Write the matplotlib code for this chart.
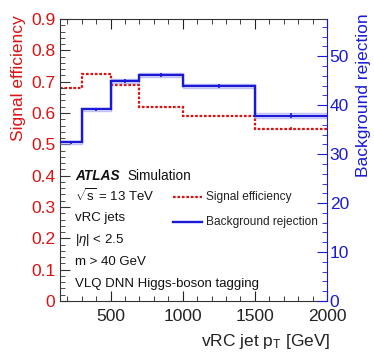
import matplotlib
matplotlib.use("Agg")
import matplotlib.pyplot as plt
from matplotlib.ticker import MultipleLocator
import numpy as np

plt.rcParams['font.family'] = ['Liberation Sans', 'DejaVu Sans']
plt.rcParams['mathtext.fontset'] = 'custom'
plt.rcParams['mathtext.rm'] = 'Liberation Sans'
plt.rcParams['mathtext.it'] = 'Liberation Sans:italic'

bin_edges = [150, 300, 500, 700, 1000, 1500, 2000]
signal_eff = [0.68, 0.723, 0.69, 0.619, 0.589, 0.550]
signal_err = [0.003, 0.003, 0.003, 0.003, 0.003, 0.004]
bkg_rej = [32.4, 39.2, 44.9, 46.2, 43.9, 37.8]
bkg_err = [0.3, 0.3, 0.4, 0.4, 0.4, 0.5]

RED = '#dd1111'
BLUE = '#1a1ad6'

fig = plt.figure(figsize=(3.74, 3.59), dpi=100)
ax = fig.add_axes([60/374, 1 - 301/359, 267/374, 282/359])
ax2 = ax.twinx()

edges = np.array(bin_edges)
centers = 0.5 * (edges[:-1] + edges[1:])
sig = np.array(signal_eff)
bkg = np.array(bkg_rej)

ax.stairs(sig, edges, color=RED, linestyle=(0, (1.2, 0.8)), linewidth=1.6, baseline=None)
ax.errorbar(centers, sig, yerr=signal_err, fmt='none', ecolor=RED, elinewidth=1.2)

ax2.stairs(bkg + np.array(bkg_err), edges, color='#9999ee', linewidth=1.0, baseline=None, alpha=0.6)
ax2.stairs(bkg - np.array(bkg_err), edges, color='#9999ee', linewidth=1.0, baseline=None, alpha=0.6)
ax2.stairs(bkg, edges, color=BLUE, linewidth=1.7, baseline=None)
ax2.errorbar(centers, bkg, yerr=bkg_err, fmt='none', ecolor=BLUE, elinewidth=1.2)

ax.set_xlim(150, 2000)
ax.set_ylim(0, 0.9)
ax2.set_ylim(0, 57.6)

ax.xaxis.set_major_locator(MultipleLocator(500))
ax.xaxis.set_minor_locator(MultipleLocator(100))
ax.yaxis.set_major_locator(MultipleLocator(0.1))
ax.yaxis.set_minor_locator(MultipleLocator(0.02))
ax2.yaxis.set_major_locator(MultipleLocator(10))
ax2.yaxis.set_minor_locator(MultipleLocator(2))

ax.tick_params(axis='x', which='both', direction='in', top=True, labelsize=12.5, colors='#222222', pad=6)
ax.tick_params(axis='x', which='major', length=7)
ax.tick_params(axis='x', which='minor', length=3.5)
ax.tick_params(axis='y', which='both', direction='in', right=False, colors='#333333', labelcolor=RED, labelsize=12.5)
ax.tick_params(axis='y', which='major', length=7)
ax.tick_params(axis='y', which='minor', length=3.5)
ax2.tick_params(axis='y', which='both', direction='in', colors=BLUE, labelcolor=BLUE, labelsize=12.5, pad=2)
ax2.tick_params(axis='y', which='major', length=7)
ax2.tick_params(axis='y', which='minor', length=3.5)

ax.yaxis.set_major_formatter(matplotlib.ticker.FuncFormatter(lambda v, p: '0' if abs(v) < 1e-9 else f'{v:.1f}'))

for s in ['left', 'top', 'bottom']:
    ax.spines[s].set_color('#333333')
ax2.spines['right'].set_color(BLUE)
ax.spines['right'].set_visible(False)
for s in ['left', 'top', 'bottom']:
    ax2.spines[s].set_visible(False)

ax.set_ylabel('Signal efficiency', color=RED, fontsize=12.5)
ax2.set_ylabel('Background rejection', color=BLUE, fontsize=12.5)
ax.set_xlabel(r'vRC jet p$_\mathregular{T}$ [GeV]', fontsize=12.5, color='#222222')
ax.xaxis.set_label_coords(0.77, -0.11)
ax.yaxis.set_label_coords(-0.128, 0.79)
ax2.yaxis.set_label_coords(1.11, 0.73)

tx = 75/374
fig.text(tx, 1 - 176/359, 'ATLAS', fontsize=9.8, fontweight='bold', style='italic', color='#111111', va='center')
fig.text(tx + 52/374, 1 - 176/359, 'Simulation', fontsize=9.8, color='#111111', va='center')
lines = [r'$\sqrt{\mathregular{s}}$ = 13 TeV', 'vRC jets', r'|$\eta$| < 2.5', 'm > 40 GeV', 'VLQ DNN Higgs-boson tagging']
ys = [196, 218, 240, 262, 284]
for t, y in zip(lines, ys):
    fig.text(tx, 1 - y/359, t, fontsize=9.5, color='#111111', va='center')

# legend
fig.lines.append(plt.Line2D([173/374, 202/374], [1 - 197/359, 1 - 197/359], transform=fig.transFigure,
                            color=RED, linestyle=(0, (1.2, 0.8)), linewidth=1.6))
fig.lines.append(plt.Line2D([173/374, 202/374], [1 - 222/359, 1 - 222/359], transform=fig.transFigure,
                            color=BLUE, linewidth=1.7))
fig.text(206/374, 1 - 197/359, 'Signal efficiency', fontsize=8.6, va='center', color='#222222')
fig.text(206/374, 1 - 222/359, 'Background rejection', fontsize=8.6, va='center', color='#222222')

fig.savefig('out.png', dpi=100)
